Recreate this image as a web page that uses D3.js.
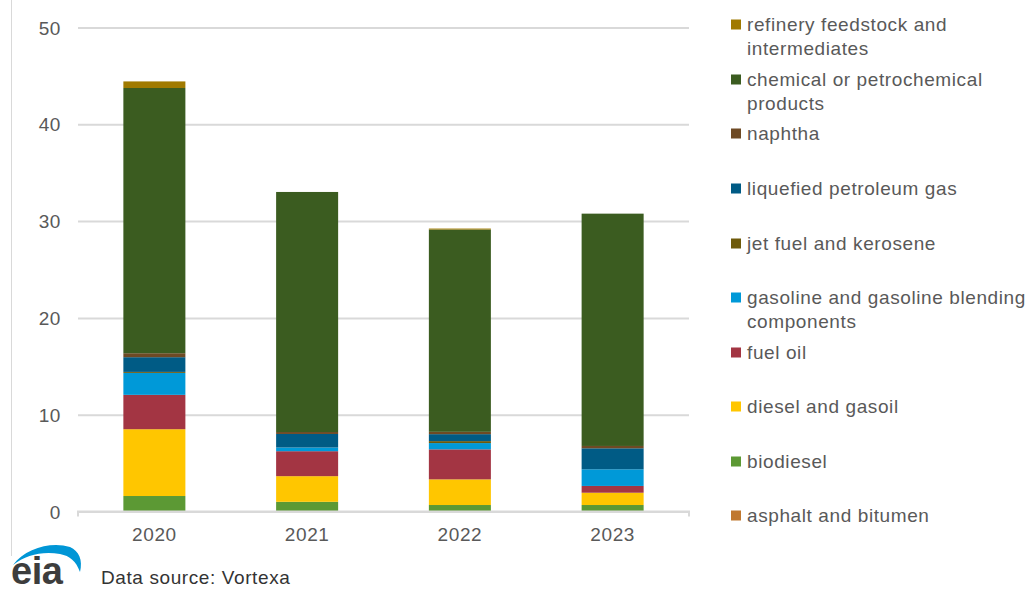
<!DOCTYPE html>
<html>
<head>
<meta charset="utf-8">
<script src="https://cdn.jsdelivr.net/npm/d3@7/dist/d3.min.js"></script>
<style>
  html, body { margin: 0; padding: 0; background: #fff; }
  svg { display: block; font-family: "Liberation Sans", Arial, sans-serif; }
  .lbl { font-size: 19px; letter-spacing: 0.6px; fill: #595959; }
</style>
</head>
<body>
<svg id="chart" width="1032" height="593"></svg>
<script>
// ---- data ----
const years = ["2020", "2021", "2022", "2023"];
// stacking order: bottom to top
const seriesNames = [
  "asphalt and bitumen",
  "biodiesel",
  "diesel and gasoil",
  "fuel oil",
  "gasoline and gasoline blending components",
  "jet fuel and kerosene",
  "liquefied petroleum gas",
  "naphtha",
  "chemical or petrochemical products",
  "refinery feedstock and intermediates"
];
const asphalt    = [0, 0, 0, 0];
const biodiesel  = [1.6, 1.0, 0.67, 0.67];
const diesel     = [6.9, 2.65, 2.65, 1.27];
const fuelOil    = [3.55, 2.58, 3.1, 0.7];
const gasoline   = [2.27, 0.38, 0.65, 1.72];
const jetFuel    = [0.1, 0.0, 0.2, 0.0];
const lpg        = [1.52, 1.4, 0.72, 2.17];
const naphtha    = [0.41, 0.2, 0.24, 0.24];
const chemical   = [27.4, 24.8, 20.9, 24.0];
const refinery   = [0.68, 0.0, 0.1, 0.0];
const seriesValues = [asphalt, biodiesel, diesel, fuelOil, gasoline, jetFuel, lpg, naphtha, chemical, refinery];
const seriesColors = ["#C0782F", "#5C9934", "#FFC600", "#A33543", "#0099D8", "#6E5A0A", "#005B85", "#6E4A24", "#3B5C20", "#A07A00"];
// legend (top to bottom), with line breaks
const legendLabels = [
  ["refinery feedstock and", "intermediates"],
  ["chemical or petrochemical", "products"],
  ["naphtha"],
  ["liquefied petroleum gas"],
  ["jet fuel and kerosene"],
  ["gasoline and gasoline blending", "components"],
  ["fuel oil"],
  ["diesel and gasoil"],
  ["biodiesel"],
  ["asphalt and bitumen"]
];
const yTicks = [0, 10, 20, 30, 40, 50];
const sourceText = "Data source: Vortexa";

// ---- layout ----
const svg = d3.select("#chart");
const plot = { left: 78, right: 689, top: 27.5, bottom: 511.5 };

const rows = years.map((y, i) => {
  const r = { year: y };
  seriesNames.forEach((s, k) => r[s] = seriesValues[k][i]);
  return r;
});
const stacked = d3.stack().keys(seriesNames)(rows);

const x = d3.scaleBand().domain(years).range([plot.left, plot.right])
  .paddingInner(0.594).paddingOuter(0.297);
const y = d3.scaleLinear().domain([0, 50]).range([plot.bottom, plot.top]);

// outer border line on left
svg.append("line").attr("x1", 11.5).attr("x2", 11.5).attr("y1", 0).attr("y2", 556)
  .attr("stroke", "#d9d9d9").attr("stroke-width", 1);

// gridlines
const yAxis = d3.axisLeft(y).tickValues(yTicks).tickSize(-(plot.right - plot.left)).tickPadding(18).tickFormat(d3.format("d"));
const gy = svg.append("g").attr("transform", `translate(${plot.left},0)`).call(yAxis);
gy.select(".domain").remove();
gy.selectAll(".tick line").attr("stroke", "#d9d9d9").attr("stroke-width", 2);
gy.selectAll(".tick text").attr("class", "lbl")
  .attr("x", 61 - plot.left).attr("dy", "0.35em");
gy.attr("font-size", null).attr("font-family", null);

// bars
svg.append("g").selectAll("g").data(stacked).join("g")
  .attr("fill", (d, i) => seriesColors[i])
  .selectAll("rect").data(d => d).join("rect")
  .attr("x", d => x(d.data.year))
  .attr("width", x.bandwidth())
  .attr("y", d => y(d[1]))
  .attr("height", d => Math.max(0, y(d[0]) - y(d[1])));

// x axis
const xAxis = d3.axisBottom(x).tickSize(0).tickPadding(16);
const gx = svg.append("g").attr("transform", `translate(0,${plot.bottom})`).call(xAxis);
gx.attr("font-size", null).attr("font-family", null);
gx.select(".domain").attr("stroke", "#d9d9d9").attr("stroke-width", 2)
  .attr("d", `M${plot.left},5V0H${plot.right}V5`);
gx.selectAll(".tick text").attr("class", "lbl");

// legend
const legendY = [24, 79, 133, 188, 243, 297, 352, 406, 461, 515];
const lg = svg.append("g");
legendLabels.forEach((lines, i) => {
  const color = seriesColors[seriesNames.length - 1 - i];
  const cy = legendY[i];
  lg.append("rect").attr("x", 731).attr("y", cy - 4.5).attr("width", 10).attr("height", 10).attr("fill", color);
  const t = lg.append("text").attr("class", "lbl").attr("x", 747).attr("y", cy);
  lines.forEach((ln, j) => {
    t.append("tspan").attr("x", 747).attr("dy", j === 0 ? "0.35em" : "24px").text(ln);
  });
});

// source text
svg.append("text").attr("class", "lbl").attr("x", 101).attr("y", 584).style("fill", "#333").text(sourceText);

// eia logo
const logo = svg.append("g");
logo.append("path")
  .attr("d", "M13,565 C25,548 52,541 70,547 C79,551 83,560 80,572 C76,561 70,556 60,554 C42,551 26,555 13,565 Z")
  .attr("fill", "#0096D6");
logo.append("text").attr("x", 11).attr("y", 584).attr("fill", "#3d3d3d")
  .style("font-size", "38px").style("font-weight", "bold").style("letter-spacing", "-0.5px").text("eia");
</script>
</body>
</html>
